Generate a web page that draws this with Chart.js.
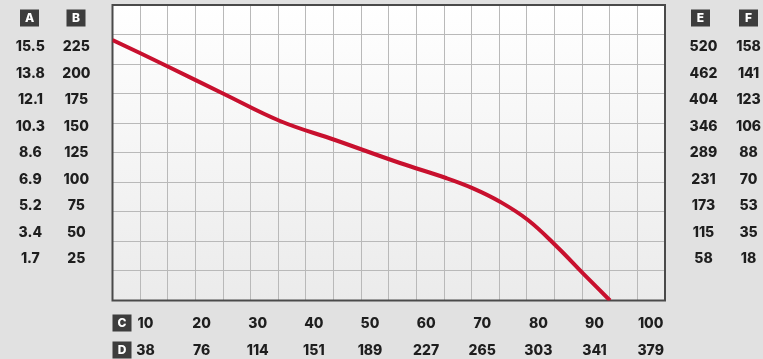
<!DOCTYPE html>
<html><head><meta charset="utf-8">
<script src="https://cdn.jsdelivr.net/npm/chart.js@4"></script>
<style>html,body{margin:0;padding:0;background:#e1e1e1;}canvas{display:block}</style>
</head><body>
<canvas id="c" width="763" height="359"></canvas>
<script>
// ---- data ----
const FLOW_C = [4.13, 14.07, 23.99, 33.97, 43.77, 55.34, 63.54, 68.35, 73.16, 78.14, 83.31, 87.94, 92.75];
const PRESSURE_B = [231.6, 206.42, 180.66, 155.19, 137.26, 115.57, 101.42, 91.7, 79.06, 61.79, 36.6, 11.51, -14.15];

const C_TICKS = [10, 20, 30, 40, 50, 60, 70, 80, 90, 100];
const D_LABELS = ['38', '76', '114', '151', '189', '227', '265', '303', '341', '379'];
const B_TICKS = [225, 200, 175, 150, 125, 100, 75, 50, 25];
const A_LABELS = ['15.5', '13.8', '12.1', '10.3', '8.6', '6.9', '5.2', '3.4', '1.7'];
const E_LABELS = ['520', '462', '404', '346', '289', '231', '173', '115', '58'];
const F_LABELS = ['158', '141', '123', '106', '88', '70', '53', '35', '18'];
const GRID_COLS = [0,1,2,3,4,5,6,7,8,9,10,11,12,13,14,15,16,17,18,19,20];
const GRID_ROWS = [0,1,2,3,4,5,6,7,8,9,10];

// ---- layout / style ----
const X_MIN = 4.13, X_MAX = 102.55;
const Y_MIN = -14.15, Y_MAX = 264.62;
const FONT = {family: 'Inter', size: 14, weight: '800'};
const TXT = '#1e1e1e';

function fixedTicks(values) { return s => { s.ticks = values.map(v => ({value: v})); }; }

function yLabelAxis(pos, weight, labels, width, padding) {
  return {
    type: 'linear', position: pos, weight, min: Y_MIN, max: Y_MAX,
    grid: {display: false, drawTicks: false}, border: {display: false},
    afterBuildTicks: fixedTicks(B_TICKS),
    afterFit: s => { s.width = width; s.paddingTop = 0; s.paddingBottom = 0; },
    ticks: {autoSkip: false, crossAlign: 'center', padding, color: TXT, font: FONT,
            callback: (v, i) => labels[i]}
  };
}
function xLabelAxis(weight, labels, height, padding) {
  return {
    type: 'linear', position: 'bottom', weight, min: X_MIN, max: X_MAX,
    grid: {display: false, drawTicks: false}, border: {display: false},
    afterBuildTicks: fixedTicks(C_TICKS),
    afterFit: s => { s.height = height; s.paddingLeft = 0; s.paddingRight = 0; },
    ticks: {autoSkip: false, maxRotation: 0, padding, color: TXT, font: FONT,
            callback: (v, i) => labels[i]}
  };
}

const decor = {
  id: 'decor',
  beforeDraw(chart) {
    const {ctx, chartArea: a} = chart;
    ctx.save();
    ctx.fillStyle = '#e1e1e1';
    ctx.fillRect(0, 0, chart.width, chart.height);
    const g = ctx.createLinearGradient(0, a.top, 0, a.bottom);
    g.addColorStop(0, '#ffffff');
    g.addColorStop(1, '#ebebeb');
    ctx.fillStyle = g;
    ctx.fillRect(a.left, a.top, a.right - a.left, a.bottom - a.top);
    ctx.restore();
  },
  beforeDatasetsDraw(chart) {
    const {ctx, chartArea: a} = chart;
    ctx.save();
    ctx.strokeStyle = '#4a4a4a';
    ctx.lineWidth = 2;
    ctx.strokeRect(a.left, a.top, a.right - a.left, a.bottom - a.top);
    ctx.restore();
  },
  afterDraw(chart) {
    const {ctx} = chart;
    const boxes = [['A', 29.5, 18], ['B', 76, 18], ['E', 700.5, 18], ['F', 748.5, 18], ['C', 122, 323], ['D', 122, 350]];
    ctx.save();
    ctx.font = '800 12px Inter';
    ctx.textAlign = 'center';
    ctx.textBaseline = 'middle';
    for (const [t, x, y] of boxes) {
      ctx.fillStyle = '#3d3d3d';
      ctx.fillRect(x - 9.5, y - 8.5, 19, 17);
      ctx.fillStyle = '#ffffff';
      ctx.fillText(t, x, y + 0.5);
    }
    ctx.restore();
  }
};

new Chart(document.getElementById('c'), {
  type: 'line',
  data: {
    datasets: [{
      data: FLOW_C.map((x, i) => ({x, y: PRESSURE_B[i]})),
      borderColor: '#c8102e', borderWidth: 4, pointRadius: 0,
      tension: 0.4, fill: false
    }]
  },
  options: {
    responsive: false, animation: false, devicePixelRatio: 1,
    layout: {padding: {top: 5, left: 0, right: 0, bottom: 0}},
    plugins: {legend: {display: false}, tooltip: {enabled: false}},
    scales: {
      x: xLabelAxis(1, C_TICKS.map(String), 28, 15),
      d: xLabelAxis(2, D_LABELS, 30.5, 14),
      y: yLabelAxis('left', 1, B_TICKS.map(String), 54.5, 22),
      a: yLabelAxis('left', 2, A_LABELS, 58, 13),
      e: yLabelAxis('right', 1, E_LABELS, 63, 24),
      f: yLabelAxis('right', 2, F_LABELS, 35, 8),
      gx: {type: 'linear', position: 'bottom', weight: 0, min: 0, max: 20,
           afterBuildTicks: fixedTicks(GRID_COLS), afterFit: s => { s.height = 0; s.paddingLeft = 0; s.paddingRight = 0; },
           grid: {color: '#b9b9b9', lineWidth: 1, drawTicks: false}, border: {display: false},
           ticks: {display: false}},
      gy: {type: 'linear', position: 'left', weight: 0, min: 0, max: 10,
           afterBuildTicks: fixedTicks(GRID_ROWS), afterFit: s => { s.width = 0; s.paddingTop = 0; s.paddingBottom = 0; },
           grid: {color: '#b9b9b9', lineWidth: 1, drawTicks: false}, border: {display: false},
           ticks: {display: false}}
    }
  },
  plugins: [decor]
});
</script>
</body></html>
